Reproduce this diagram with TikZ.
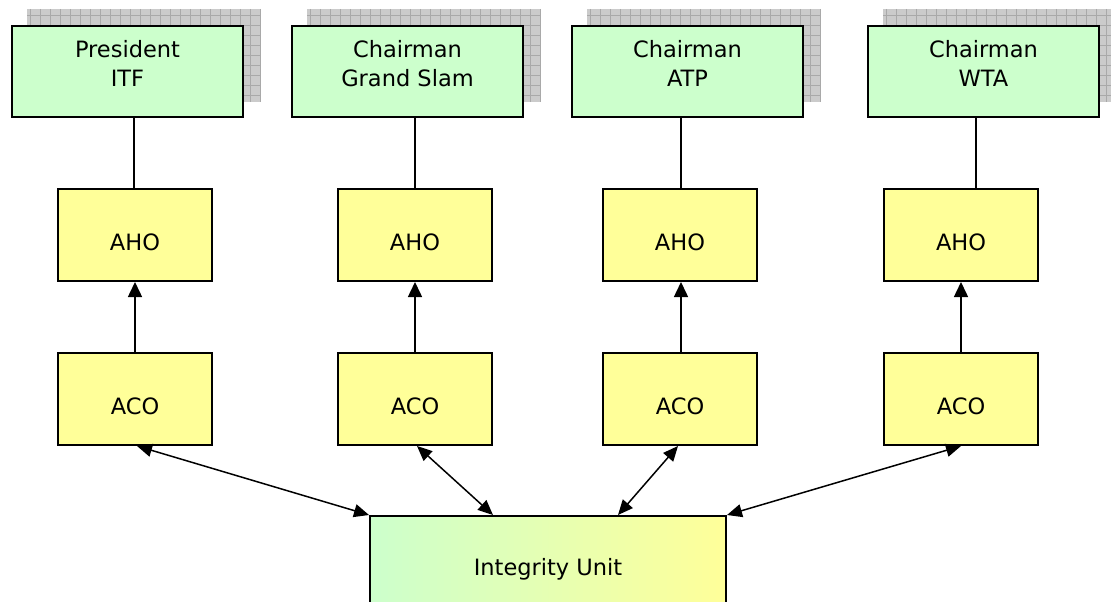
\documentclass[tikz,border=0pt]{standalone}
\usepackage{fontspec}
\setmainfont{DejaVu Sans}
\usetikzlibrary{arrows.meta,calc}
\definecolor{boxgreen}{HTML}{CCFFCC}
\definecolor{boxyellow}{HTML}{FFFF99}
\definecolor{shadegray}{HTML}{CBCBCB}
\definecolor{gridgray}{HTML}{A9A9A9}
\begin{document}
\begin{tikzpicture}[x=1pt,y=-1pt,
  boxfont/.style={font=\fontsize{22.5}{29}\selectfont},
  topbox/.style={draw=black,line width=2pt,fill=boxgreen,minimum width=231pt,minimum height=91pt,inner sep=0pt},
  toptext/.style={boxfont,align=center,inner sep=0pt},
  ybox/.style={boxfont,draw=black,line width=2pt,fill=boxyellow,minimum width=154pt,minimum height=92pt,inner sep=0pt,text height=30pt,text depth=0pt},
  iubox/.style={boxfont,draw=black,line width=2pt,left color=boxgreen,right color=boxyellow,minimum width=356pt,minimum height=106pt,inner sep=0pt},
  shadowbox/.style={fill=shadegray},
  conn/.style={draw=black,line width=1.5pt},
  uparrow/.style={conn,-{Triangle[length=15pt,width=14pt]}},
  twoway/.style={conn,{Triangle[length=15pt,width=13pt]}-{Triangle[length=15pt,width=13pt]}}
]
\useasboundingbox (0,0) rectangle (1111,602);
\begin{scope}
\clip (0,0) rectangle (1111,602);
% shadows
\foreach \sx in {27,307,587,883}{
  \fill[shadowbox] (\sx,9) rectangle ++(233,93);
  \foreach \gx in {3,13,...,233}{
    \draw[gridgray,line width=0.8pt] (\sx+\gx,9) -- ++(0,93);
  }
  \foreach \gy in {6,16,...,93}{
    \draw[gridgray,line width=0.8pt] (\sx,9+\gy) -- ++(233,0);
  }
}
% top boxes
\node[topbox] (t1) at (127.5,71.5) {};
\node[topbox] (t2) at (407.5,71.5) {};
\node[topbox] (t3) at (687.5,71.5) {};
\node[topbox] (t4) at (983.5,71.5) {};
\node[toptext] (t1text) at (127.5,63.5) {President\\ITF};
\node[toptext] (t2text) at (407.5,63.5) {Chairman\\Grand Slam};
\node[toptext] (t3text) at (687.5,63.5) {Chairman\\ATP};
\node[toptext] (t4text) at (983.5,63.5) {Chairman\\WTA};
% AHO boxes
\node[ybox] (a1) at (135,235) {AHO};
\node[ybox] (a2) at (415,235) {AHO};
\node[ybox] (a3) at (680,235) {AHO};
\node[ybox] (a4) at (961,235) {AHO};
% ACO boxes
\node[ybox] (c1) at (135,399) {ACO};
\node[ybox] (c2) at (415,399) {ACO};
\node[ybox] (c3) at (680,399) {ACO};
\node[ybox] (c4) at (961,399) {ACO};
% Integrity unit
\node[iubox] (iu) at (548,569) {Integrity Unit};
% vertical lines
\draw[conn] ([xshift=-1pt]a1.north |- t1.south) -- ([xshift=-1pt]a1.north);
\draw[conn] (a2.north |- t2.south) -- (a2.north);
\draw[conn] ([xshift=1pt]a3.north |- t3.south) -- ([xshift=1pt]a3.north);
\draw[conn] ([xshift=-7.5pt]t4.south) -- ([xshift=-7.5pt]t4.south |- a4.north);
% up arrows
\draw[uparrow] (c1.north) -- (a1.south);
\draw[uparrow] (c2.north) -- (a2.south);
\draw[uparrow] ([xshift=1pt]c3.north) -- ([xshift=1pt]a3.south);
\draw[uparrow] (c4.north) -- (a4.south);
% two-way arrows
\draw[twoway] ([xshift=2pt]c1.south) -- (iu.north west);
\draw[twoway] ([xshift=2pt]c2.south) -- ($(iu.north west)+(124,0)$);
\draw[twoway] ([xshift=-2pt]c3.south) -- ($(iu.north west)+(249,0)$);
\draw[twoway] (c4.south) -- (iu.north east);
\end{scope}
\end{tikzpicture}
\end{document}
